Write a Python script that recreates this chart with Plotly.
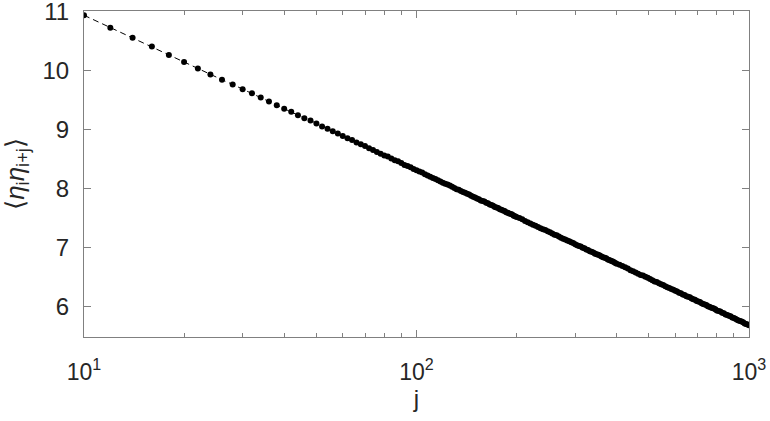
import plotly.graph_objects as go

# separation j (even values; dense tail thinned where the markers merge)
j_a = [10, 12, 14, 16, 18, 20, 22, 24, 26, 28, 30, 32, 34, 36, 38, 40, 42, 44, 46, 48,
       50, 52, 54, 56, 58, 60, 62, 64, 66, 68, 70, 72, 74, 76, 78, 80, 82, 84, 86, 88,
       90, 92, 94, 96, 98, 100]
corr_a = [10.93, 10.72, 10.55, 10.40, 10.26, 10.14, 10.03, 9.93, 9.84, 9.76, 9.68, 9.61,
          9.54, 9.47, 9.41, 9.35, 9.30, 9.24, 9.19, 9.15, 9.10, 9.05, 9.01, 8.97, 8.93,
          8.89, 8.85, 8.82, 8.78, 8.75, 8.72, 8.68, 8.65, 8.62, 8.59, 8.56, 8.54, 8.51,
          8.48, 8.46, 8.43, 8.40, 8.38, 8.36, 8.33, 8.31]

j_b = [102, 104, 106, 108, 110, 112, 114, 116, 118, 120, 122, 124, 126, 128, 130, 132,
       134, 136, 138, 140, 142, 144, 146, 148, 150, 152, 154, 156, 158, 160, 162, 164,
       166, 168, 170, 172, 174, 176, 178, 180, 182, 184, 186, 188, 190, 192, 194, 196,
       198, 200]
corr_b = [8.29, 8.27, 8.24, 8.22, 8.20, 8.18, 8.16, 8.14, 8.12, 8.10, 8.08, 8.07, 8.05,
          8.03, 8.01, 7.99, 7.98, 7.96, 7.94, 7.93, 7.91, 7.90, 7.88, 7.86, 7.85, 7.83,
          7.82, 7.80, 7.79, 7.78, 7.76, 7.75, 7.73, 7.72, 7.71, 7.69, 7.68, 7.67, 7.65,
          7.64, 7.63, 7.62, 7.60, 7.59, 7.58, 7.57, 7.56, 7.54, 7.53, 7.52]

j_c = [204, 208, 212, 216, 220, 224, 228, 232, 236, 240, 244, 248, 252, 256, 260, 264,
       268, 272, 276, 280, 284, 288, 292, 296, 300, 304, 308, 312, 316, 320, 324, 328,
       332, 336, 340, 344, 348, 352, 356, 360, 364, 368, 372, 376, 380, 384, 388, 392,
       396, 400]
corr_c = [7.50, 7.48, 7.45, 7.43, 7.41, 7.39, 7.37, 7.35, 7.33, 7.31, 7.30, 7.28, 7.26,
          7.24, 7.22, 7.21, 7.19, 7.17, 7.15, 7.14, 7.12, 7.11, 7.09, 7.08, 7.06, 7.04,
          7.03, 7.02, 7.00, 6.99, 6.97, 6.96, 6.94, 6.93, 6.92, 6.90, 6.89, 6.88, 6.87,
          6.85, 6.84, 6.83, 6.82, 6.80, 6.79, 6.78, 6.77, 6.76, 6.74, 6.73]

j_d = [408, 416, 424, 432, 440, 448, 456, 464, 472, 480, 488, 496, 504, 512, 520, 528,
       536, 544, 552, 560, 568, 576, 584, 592, 600, 608, 616, 624, 632, 640, 648, 656,
       664, 672, 680, 688, 696, 704, 712, 720, 728, 736, 744, 752, 760, 768, 776, 784,
       792, 800]
corr_d = [6.71, 6.69, 6.67, 6.65, 6.62, 6.60, 6.58, 6.56, 6.54, 6.53, 6.51, 6.49, 6.47,
          6.45, 6.43, 6.42, 6.40, 6.38, 6.37, 6.35, 6.33, 6.32, 6.30, 6.29, 6.27, 6.26,
          6.24, 6.23, 6.21, 6.20, 6.18, 6.17, 6.16, 6.14, 6.13, 6.12, 6.10, 6.09, 6.08,
          6.06, 6.05, 6.04, 6.03, 6.01, 6.00, 5.99, 5.98, 5.97, 5.96, 5.94]

j_e = [810, 820, 830, 840, 850, 860, 870, 880, 890, 900, 910, 920, 930, 940, 950, 960,
       970, 980, 990, 1000]
corr_e = [5.93, 5.92, 5.90, 5.89, 5.87, 5.86, 5.85, 5.84, 5.82, 5.81, 5.80, 5.78, 5.77,
          5.76, 5.75, 5.74, 5.72, 5.71, 5.70, 5.69]

j = j_a + j_b + j_c + j_d + j_e
corr = corr_a + corr_b + corr_c + corr_d + corr_e
assert len(j) == len(corr)

x_ticks = [10, 100, 1000]
x_ticktext = ["10<sup>1</sup>", "10<sup>2</sup>", "10<sup>3</sup>"]
x_minor = [20, 30, 40, 50, 60, 70, 80, 90, 200, 300, 400, 500, 600, 700, 800, 900]
y_ticks = [6, 7, 8, 9, 10, 11]

AX = "#808080"
TXT = "#262626"

fig = go.Figure()
fig.add_trace(go.Scatter(
    x=j, y=corr,
    mode="lines+markers",
    line=dict(color="black", width=1, dash="6px,4px"),
    marker=dict(color="black", size=6),
    showlegend=False,
))

fig.update_layout(
    width=770, height=421, autosize=False,
    margin=dict(l=84, r=21, t=11, b=84),
    plot_bgcolor="white", paper_bgcolor="white",
    font=dict(family="Liberation Sans, Arial", size=24, color=TXT),
)
fig.update_xaxes(
    type="log", range=[1, 3], automargin=False,
    tickvals=x_ticks, ticktext=x_ticktext,
    minor=dict(tickvals=x_minor, ticks="inside", ticklen=4, tickcolor=AX),
    showline=True, linecolor=AX, linewidth=1, mirror="ticks",
    ticks="inside", ticklen=7, tickcolor=AX,
    showgrid=False, zeroline=False,
    tickfont=dict(size=23, color=TXT),
    ticklabelstandoff=14,
    ticklabeloverflow="allow",
    title=dict(text="j", font=dict(size=24, color=TXT), standoff=6),
)
fig.update_yaxes(
    range=[5.49, 11.002], tickvals=y_ticks, automargin=False,
    showline=True, linecolor=AX, linewidth=1, mirror="ticks",
    ticks="inside", ticklen=7, tickcolor=AX,
    showgrid=False, zeroline=False,
    tickfont=dict(size=24, color=TXT),
    ticklabelstandoff=9,
    ticklabeloverflow="allow",
    title=dict(text="⟨<i>η</i><sub>i</sub><i>η</i><sub>i+j</sub>⟩",
               font=dict(size=26, color=TXT), standoff=12),
)

# page body has a default 8px margin; drop it so the figure sits at the window origin
fig.write_html("out.html", config={"displayModeBar": False},
               post_script="document.body.style.margin='0';")
